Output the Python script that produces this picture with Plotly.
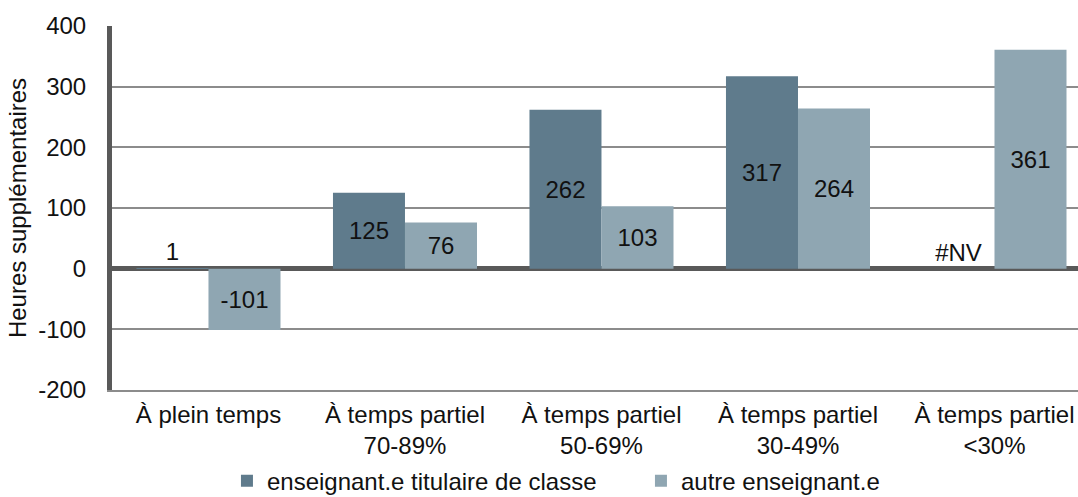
import plotly.graph_objects as go

categories = ["À plein temps", "À temps partiel<br>70-89%", "À temps partiel<br>50-69%",
              "À temps partiel<br>30-49%", "À temps partiel<br><30%"]
titulaire = [1, 125, 262, 317, None]
autre = [-101, 76, 103, 264, 361]
series_names = ["enseignant.e titulaire de classe", "autre enseignant.e"]
colors = ["#5f7b8c", "#8fa6b2"]
y_ticks = [-200, -100, 0, 100, 200, 300, 400]
y_tick_labels = ["-200", "-100", "0", "100", "200", "300", "400"]

FONT = "Liberation Sans, Arial, sans-serif"
TXT = "#111111"


def prep(vals):
    ys, txt, pos = [], [], []
    for v in vals:
        if v is None:
            ys.append(0)
            txt.append("#NV")
            pos.append("outside")
        else:
            ys.append(v)
            txt.append(str(v))
            pos.append("outside" if abs(v) < 20 else "inside")
    return ys, txt, pos


fig = go.Figure()
for vals, name, col in zip([titulaire, autre], series_names, colors):
    ys, txt, pos = prep(vals)
    fig.add_trace(go.Bar(
        x=categories, y=ys, name=name, marker=dict(color=col, line=dict(width=0)),
        text=txt, textposition=pos, insidetextanchor="middle",
        textfont=dict(family=FONT, size=24, color=TXT),
        cliponaxis=False, constraintext="none",
    ))

fig.update_layout(
    width=1078, height=497,
    margin=dict(l=112, r=0, t=26, b=107, autoexpand=False),
    paper_bgcolor="white", plot_bgcolor="white",
    barmode="group", bargap=0.267, bargroupgap=0,
    font=dict(family=FONT, size=24, color=TXT),
    showlegend=True,
    legend=dict(orientation="h", x=0.119, xanchor="left", xref="paper",
                y=0.032, yanchor="middle", yref="container",
                font=dict(family=FONT, size=24, color=TXT),
                entrywidth=369, traceorder="normal"),
    xaxis=dict(range=[-0.491, 4.425], showgrid=False, showline=True, automargin=False,
               linecolor="#8c8c8c", linewidth=1.5, ticks="", ticklabelstandoff=2,
               tickfont=dict(family=FONT, size=24, color=TXT)),
    yaxis=dict(range=[-200, 400], tickvals=y_ticks, ticktext=y_tick_labels,
               showgrid=True, gridcolor="#8c8c8c", automargin=False,
               gridwidth=1.5, zeroline=True, zerolinecolor="#595959", zerolinewidth=5,
               showline=True, linecolor="#595959", linewidth=5, ticks="",
               ticklabelstandoff=16,
               tickfont=dict(family=FONT, size=24, color=TXT),
               title=dict(text="Heures supplémentaires", standoff=6,
                          font=dict(family=FONT, size=24, color=TXT))),
)

fig.write_html("out.html", config={"displayModeBar": False},
               post_script="document.body.style.margin='0';document.body.style.overflow='hidden';")
